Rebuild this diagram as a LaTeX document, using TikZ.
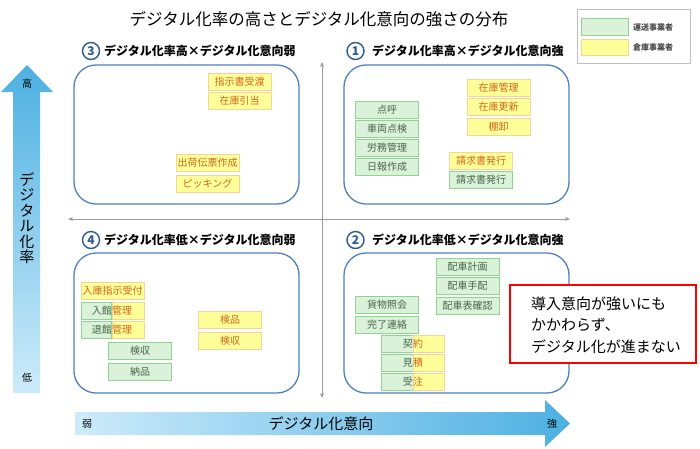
\documentclass[tikz,border=0pt]{standalone}
\usepackage{fontspec}
\setmainfont{Noto Sans CJK JP}
\usetikzlibrary{arrows.meta}
\definecolor{gfill}{HTML}{D9F2D9}
\definecolor{gline}{HTML}{8FD48F}
\definecolor{gtext}{HTML}{4A654A}
\definecolor{yfill}{HTML}{FFFF99}
\definecolor{yline}{HTML}{F5D49C}
\definecolor{ytext}{HTML}{D2661E}
\definecolor{qline}{HTML}{4F81BD}
\definecolor{numblue}{HTML}{2B5C8C}
\definecolor{adark}{HTML}{4DB0E2}
\definecolor{alight}{HTML}{CDEBFA}
\definecolor{divgray}{HTML}{9A9A9A}
\newcommand{\fs}[1]{\fontsize{#1}{#1}\selectfont}
\tikzset{
  x=1pt, y=-1pt,
  boxbase/.style={minimum width=63, minimum height=17, inner sep=0pt, font=\fs{10}, line width=0.8pt},
  gbox/.style={boxbase, draw=gline, fill=gfill, text=gtext},
  ybox/.style={boxbase, draw=yline, fill=yfill, text=ytext},
  quad/.style={draw=qline, line width=1.3pt, rounded corners=22pt},
  qnum/.style={circle, draw=numblue, line width=1.4pt, minimum size=17pt, inner sep=0pt, text=numblue, font=\fs{12}\bfseries},
  qtitle/.style={anchor=west, inner sep=0pt, font=\fs{12}\bfseries},
  divider/.style={draw=divgray, line width=1pt, {Stealth[length=5pt,width=4pt]}-{Stealth[length=5pt,width=4pt]}},
  lbl/.style={inner sep=0pt, font=\fs{10}},
}
\begin{document}
\begin{tikzpicture}
\useasboundingbox[fill=white] (0,0) rectangle (700,448);

% title
\node[inner sep=0pt, font=\fs{16.5}] (title) at (319,19) {デジタル化率の高さとデジタル化意向の強さの分布};

% legend
\node[draw=black!25, line width=0.8pt, minimum width=113, minimum height=54, inner sep=0pt] (legend) at (633.5,36) {};
\node[draw=gline, fill=gfill, line width=0.8pt, minimum width=47, minimum height=17, inner sep=0pt] (lgg) at (604.5,26.5) {};
\node[draw=yline, fill=yfill, line width=0.8pt, minimum width=47, minimum height=16, inner sep=0pt] (lgy) at (604.5,47) {};
\node[anchor=west, inner sep=0pt, font=\fs{8}\bfseries, text=black!70] (lgtg) at (633,27) {運送事業者};
\node[anchor=west, inner sep=0pt, font=\fs{8}\bfseries, text=black!70] (lgty) at (633,47) {倉庫事業者};

% dividers
\coordinate (vtop) at (322,62);
\coordinate (vbot) at (322,398);
\coordinate (hl) at (68,219);
\coordinate (hr) at (570,219);
\draw[divider] (vbot) -- (vtop);
\draw[divider] (hl) -- (hr);

% quadrant boxes
\draw[quad, fill=white] (74,65) rectangle (299,204);
\draw[quad, fill=white] (344,65) rectangle (569,204);
\draw[quad, fill=white] (74,253) rectangle (299,393);
\draw[quad, fill=white] (344,253) rectangle (569,393);

% quadrant titles
\node[qnum] (n3) at (91,51) {3};
\node[qtitle] (t3) at (104,51) {デジタル化率高×デジタル化意向弱};
\node[qnum] (n1) at (355.5,51) {1};
\node[qtitle] (t1) at (372,51) {デジタル化率高×デジタル化意向強};
\node[qnum] (n4) at (91,240) {4};
\node[qtitle] (t4) at (104,240) {デジタル化率低×デジタル化意向弱};
\node[qnum] (n2) at (355.5,240) {2};
\node[qtitle] (t2) at (372,240) {デジタル化率低×デジタル化意向強};

% Q3
\node[ybox] (q3a) at (239.5,81.5) {指示書受渡};
\node[ybox] (q3b) at (239.5,101) {在庫引当};
\node[ybox] (q3c) at (207.5,163) {出荷伝票作成};
\node[ybox] (q3d) at (207.5,183.5) {ピッキング};

% Q1
\node[gbox] (q1a) at (387,110) {点呼};
\node[gbox] (q1b) at (387,129) {車両点検};
\node[gbox] (q1c) at (387,147.5) {労務管理};
\node[gbox] (q1d) at (387,167) {日報作成};
\node[ybox] (q1e) at (498.5,87.5) {在庫管理};
\node[ybox] (q1f) at (498.5,106.5) {在庫更新};
\node[ybox] (q1g) at (498.5,126.5) {棚卸};
\node[ybox] (q1h) at (481,160.5) {請求書発行};
\node[gbox] (q1i) at (481,180) {請求書発行};

% Q4
\node[ybox] (q4a) at (112.5,290.5) {入庫指示受付};
\node[gbox] (q4b) at (112.5,310.5) {};
\node[ybox, minimum width=32] (q4by) at (128,310.5) {};
\node[inner sep=0pt, anchor=east, font=\fs{10}, text=gtext] (q4bt1) at (112,310.5) {入館};
\node[inner sep=0pt, anchor=west, font=\fs{10}, text=ytext] (q4bt2) at (112,310.5) {管理};
\node[gbox] (q4c) at (112.5,330) {};
\node[ybox, minimum width=32] (q4cy) at (128,330) {};
\node[inner sep=0pt, anchor=east, font=\fs{10}, text=gtext] (q4ct1) at (112,330) {退館};
\node[inner sep=0pt, anchor=west, font=\fs{10}, text=ytext] (q4ct2) at (112,330) {管理};
\draw[gline, line width=0.8pt] (q4by.north west) -- (q4by.south west);
\draw[gline, line width=0.8pt] (q4cy.north west) -- (q4cy.south west);
\node[gbox] (q4d) at (140,351) {検収};
\node[gbox] (q4e) at (140,371.5) {納品};
\node[ybox] (q4f) at (230,320) {検品};
\node[ybox] (q4g) at (230,340.5) {検収};

% Q2
\node[gbox] (q2a) at (467.5,267) {配車計画};
\node[gbox] (q2b) at (467.5,286) {配車手配};
\node[gbox] (q2c) at (467.5,306) {配車表確認};
\node[gbox] (q2d) at (387,305) {貨物照会};
\node[gbox] (q2e) at (387,325) {完了連絡};
\node[gbox] (q2f) at (412.5,344) {};
\node[ybox, minimum width=31] (q2fy) at (428.5,344) {};
\node[inner sep=0pt, anchor=east, font=\fs{10}, text=gtext] (q2ft1) at (413,344) {契};
\node[inner sep=0pt, anchor=west, font=\fs{10}, text=ytext] (q2ft2) at (413,344) {約};
\node[gbox] (q2g) at (412.5,362.5) {};
\node[ybox, minimum width=31] (q2gy) at (428.5,362.5) {};
\node[inner sep=0pt, anchor=east, font=\fs{10}, text=gtext] (q2gt1) at (413,362.5) {見};
\node[inner sep=0pt, anchor=west, font=\fs{10}, text=ytext] (q2gt2) at (413,362.5) {積};
\node[gbox] (q2h) at (412.5,381.5) {};
\node[ybox, minimum width=31] (q2hy) at (428.5,381.5) {};
\node[inner sep=0pt, anchor=east, font=\fs{10}, text=gtext] (q2ht1) at (413,381.5) {受};
\node[inner sep=0pt, anchor=west, font=\fs{10}, text=ytext] (q2ht2) at (413,381.5) {注};

% red callout
\node[draw=red, line width=1.6pt, fill=white, minimum width=186, minimum height=78, inner sep=0pt] (callout) at (603,324) {};
\node[anchor=west, align=left, inner sep=0pt, font=\fontsize{15}{21.5}\selectfont] (callt) at (531,325) {導入意向が強いにも\\かかわらず、\\デジタル化が進まない};

% vertical axis arrow
\shade[top color=adark, bottom color=alight] (13,393) -- (13,92) -- (1,92) -- (27,65) -- (53,92) -- (40,92) -- (40,393) -- cycle;
\node[lbl] (hi) at (27,84) {高};
\node[lbl] (lo) at (27,378) {低};
\node[inner sep=0pt, align=center, font=\fontsize{15}{15.5}\selectfont] (vlab) at (27,218) {デ\\ジ\\タ\\ル\\化\\率};

% horizontal axis arrow
\shade[left color=alight, right color=adark] (75,412) -- (545,412) -- (545,400) -- (570,423.5) -- (545,447) -- (545,435) -- (75,435) -- cycle;
\node[lbl] (weak) at (87,424) {弱};
\node[lbl] (strong) at (552,424) {強};
\node[inner sep=0pt, font=\fs{15}] (hlab) at (321,424) {デジタル化意向};
\end{tikzpicture}
\end{document}
